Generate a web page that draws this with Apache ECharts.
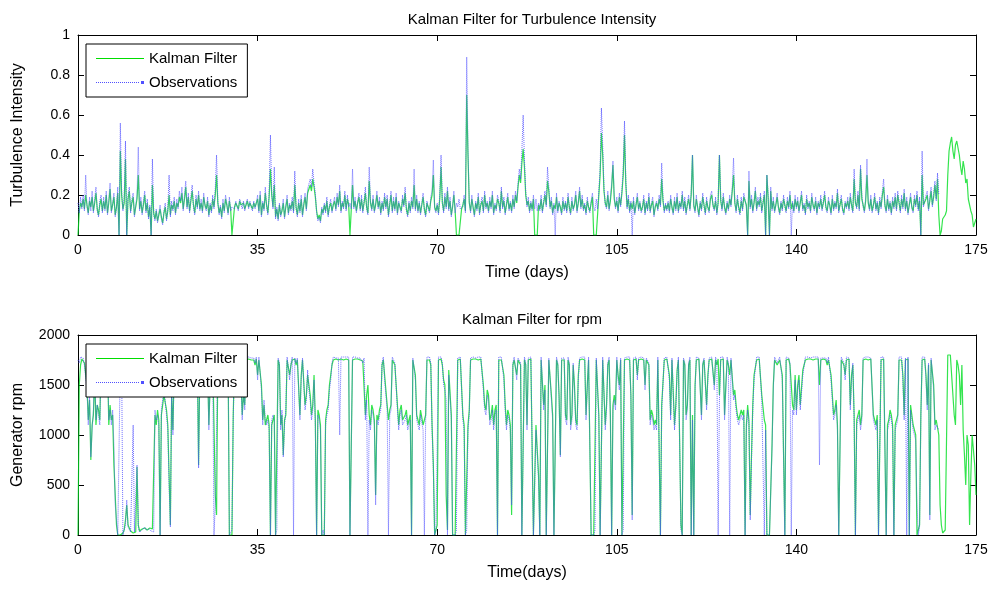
<!DOCTYPE html>
<html>
<head>
<meta charset="utf-8">
<script src="https://cdn.jsdelivr.net/npm/echarts@6/dist/echarts.min.js"></script>
<style>
html,body{margin:0;padding:0;background:#fff;}
#chart{width:991px;height:589px;}
</style>
</head>
<body>
<div id="chart"></div>
<script>
// ---- data (sampled every 0.25 day) ----
const STEP = 0.25;
const xTicks = [0, 35, 70, 105, 140, 175];
const tiTicks = [0, 0.2, 0.4, 0.6, 0.8, 1];
const rpmTicks = [0, 500, 1000, 1500, 2000];

const kfTI = [
0,0.12,0.16,0.14,0.18,0.13,0.2,0.15,0.11,0.17,0.14,0.19,0.12,0.16,0.21,0.13,0.1,0.15,0.18,0.12,
0.17,0.13,0.2,0.11,0.16,0.23,0.12,0.15,0.19,0.1,0.14,0.21,0.0,0.42,0.2,0.13,0.16,0.38,0.0,0.18,
0.22,0.12,0.16,0.19,0.1,0.14,0.18,0.3,0.13,0.17,0.11,0.15,0.2,0.12,0.16,0.09,0.14,0.0,0.25,0.11,
0.08,0.12,0.07,0.1,0.13,0.09,0.06,0.11,0.14,0.08,0.12,0.2,0.1,0.15,0.13,0.17,0.11,0.16,0.14,0.19,
0.16,0.21,0.13,0.18,0.24,0.14,0.19,0.12,0.17,0.22,0.15,0.11,0.18,0.14,0.2,0.13,0.16,0.12,0.19,0.15,
0.13,0.17,0.1,0.15,0.12,0.18,0.14,0.2,0.3,0.16,0.11,0.14,0.09,0.16,0.12,0.18,0.15,0.11,0.17,0.13,
0.0,0.0,0.14,0.16,0.15,0.13,0.17,0.15,0.14,0.16,0.13,0.15,0.17,0.14,0.16,0.15,0.13,0.16,0.14,0.15,
0.18,0.12,0.2,0.1,0.16,0.13,0.21,0.15,0.11,0.19,0.33,0.2,0.14,0.25,0.09,0.13,0.08,0.15,0.1,0.12,
0.16,0.09,0.14,0.18,0.11,0.15,0.13,0.17,0.12,0.25,0.14,0.1,0.16,0.12,0.18,0.1,0.15,0.19,0.13,0.21,
0.2,0.25,0.22,0.28,0.24,0.19,0.12,0.08,0.1,0.07,0.13,0.11,0.15,0.12,0.17,0.1,0.14,0.16,0.12,0.15,
0.17,0.13,0.19,0.15,0.22,0.12,0.16,0.14,0.2,0.13,0.18,0.15,0.0,0.0,0.25,0.14,0.17,0.12,0.16,0.19,
0.13,0.18,0.12,0.16,0.21,0.14,0.11,0.27,0.16,0.13,0.18,0.12,0.15,0.2,0.14,0.17,0.11,0.16,0.13,0.19,
0.14,0.18,0.1,0.15,0.2,0.12,0.17,0.13,0.19,0.11,0.16,0.14,0.12,0.18,0.15,0.21,0.13,0.1,0.16,0.12,
0.17,0.14,0.25,0.13,0.18,0.12,0.16,0.11,0.15,0.19,0.13,0.1,0.16,0.14,0.12,0.17,0.2,0.3,0.14,0.12,
0.15,0.11,0.18,0.34,0.16,0.12,0.19,0.14,0.22,0.13,0.17,0.1,0.14,0.2,0.12,0.0,0.0,0.0,0.0,0.13,
0.15,0.18,0.12,0.7,0.4,0.16,0.12,0.18,0.14,0.1,0.16,0.13,0.19,0.11,0.15,0.17,0.12,0.2,0.14,0.16,
0.12,0.17,0.14,0.2,0.11,0.15,0.13,0.18,0.16,0.12,0.22,0.14,0.17,0.11,0.15,0.19,0.13,0.16,0.12,0.18,
0.14,0.2,0.16,0.24,0.3,0.26,0.36,0.43,0.34,0.2,0.15,0.17,0.12,0.16,0.13,0.18,0.0,0.0,0.0,0.15,
0.13,0.18,0.12,0.16,0.2,0.15,0.27,0.22,0.14,0.17,0.11,0.15,0.13,0.19,0.12,0.16,0.14,0.11,0.17,0.13,
0.16,0.12,0.19,0.14,0.11,0.17,0.13,0.15,0.2,0.12,0.16,0.22,0.14,0.18,0.13,0.15,0.11,0.17,0.14,0.12,
0.16,0.19,0.0,0.0,0.0,0.0,0.2,0.3,0.51,0.4,0.22,0.16,0.14,0.2,0.13,0.17,0.24,0.35,0.18,0.14,
0.17,0.12,0.19,0.15,0.21,0.3,0.5,0.26,0.14,0.18,0.12,0.16,0.13,0.17,0.11,0.15,0.19,0.13,0.16,0.12,
0.14,0.18,0.11,0.16,0.13,0.19,0.12,0.15,0.17,0.1,0.14,0.16,0.13,0.18,0.15,0.28,0.17,0.12,0.15,0.13,
0.16,0.12,0.18,0.14,0.11,0.17,0.13,0.19,0.12,0.16,0.14,0.2,0.13,0.17,0.11,0.15,0.18,0.13,0.2,0.4,
0.15,0.12,0.18,0.14,0.1,0.16,0.13,0.19,0.15,0.11,0.17,0.14,0.12,0.18,0.2,0.15,0.13,0.17,0.11,0.16,
0.4,0.17,0.13,0.19,0.14,0.11,0.16,0.13,0.18,0.15,0.22,0.3,0.16,0.12,0.18,0.14,0.11,0.17,0.13,0.19,
0.2,0.15,0.0,0.27,0.14,0.18,0.12,0.16,0.22,0.13,0.17,0.15,0.19,0.12,0.16,0.2,0.0,0.3,0.18,0.0,
0.22,0.13,0.17,0.12,0.15,0.19,0.14,0.11,0.16,0.13,0.18,0.15,0.12,0.17,0.14,0.2,0.13,0.16,0.12,0.18,
0.14,0.17,0.12,0.16,0.2,0.13,0.15,0.11,0.18,0.14,0.16,0.12,0.19,0.15,0.13,0.17,0.11,0.16,0.14,0.18,
0.13,0.16,0.2,0.14,0.12,0.17,0.15,0.11,0.18,0.13,0.16,0.14,0.21,0.12,0.15,0.18,0.13,0.11,0.16,0.14,
0.17,0.13,0.19,0.15,0.12,0.28,0.16,0.14,0.2,0.13,0.33,0.18,0.15,0.12,0.17,0.3,0.16,0.13,0.18,0.12,
0.15,0.19,0.13,0.16,0.11,0.17,0.14,0.2,0.24,0.15,0.12,0.18,0.13,0.16,0.11,0.17,0.14,0.19,0.13,0.2,
0.16,0.12,0.18,0.14,0.21,0.13,0.17,0.11,0.15,0.19,0.14,0.12,0.18,0.15,0.2,0.13,0.17,0.0,0.3,0.15,
0.14,0.18,0.2,0.13,0.17,0.22,0.15,0.19,0.25,0.18,0.28,0.1,0.0,0.02,0.08,0.07,0.1,0.12,0.3,0.42,
0.46,0.49,0.42,0.38,0.45,0.47,0.48,0.4,0.34,0.3,0.37,0.33,0.26,0.28,0.18,0.19,0.12,0.1,0.04,0.06,0.08
];

const obsTI = [
0.16,0.11,0.19,0.13,0.2,0.12,0.3,0.14,0.1,0.19,0.12,0.22,0.11,0.18,0.24,0.12,0.09,0.17,0.2,0.11,
0.19,0.12,0.22,0.1,0.18,0.26,0.11,0.16,0.21,0.09,0.13,0.24,0.0,0.56,0.22,0.12,0.18,0.47,0.0,0.2,
0.24,0.11,0.18,0.21,0.09,0.15,0.2,0.44,0.12,0.19,0.1,0.17,0.22,0.11,0.18,0.08,0.15,0.0,0.38,0.1,
0.07,0.13,0.06,0.11,0.15,0.08,0.05,0.12,0.16,0.07,0.13,0.3,0.09,0.17,0.12,0.19,0.1,0.18,0.13,0.22,
0.17,0.24,0.12,0.2,0.27,0.13,0.21,0.11,0.19,0.25,0.14,0.1,0.2,0.13,0.22,0.12,0.18,0.11,0.21,0.14,
0.12,0.19,0.09,0.16,0.11,0.2,0.13,0.23,0.4,0.17,0.1,0.15,0.08,0.18,0.11,0.2,0.16,0.1,0.19,0.12,
0.14,0.15,0.13,0.17,0.14,0.12,0.18,0.16,0.13,0.17,0.12,0.16,0.18,0.13,0.17,0.14,0.12,0.17,0.13,0.16,
0.2,0.11,0.22,0.09,0.17,0.12,0.24,0.14,0.1,0.21,0.5,0.22,0.13,0.34,0.08,0.14,0.07,0.16,0.09,0.13,
0.18,0.08,0.15,0.2,0.1,0.16,0.12,0.19,0.11,0.32,0.13,0.09,0.18,0.11,0.2,0.09,0.16,0.21,0.12,0.23,
0.22,0.28,0.24,0.33,0.26,0.21,0.11,0.07,0.09,0.06,0.14,0.1,0.16,0.11,0.19,0.09,0.15,0.18,0.11,0.16,
0.19,0.12,0.21,0.14,0.25,0.11,0.17,0.13,0.22,0.12,0.2,0.14,0.16,0.13,0.33,0.13,0.19,0.11,0.17,0.21,
0.12,0.2,0.11,0.17,0.24,0.13,0.1,0.34,0.17,0.12,0.2,0.11,0.16,0.22,0.13,0.19,0.1,0.17,0.12,0.21,
0.13,0.2,0.09,0.16,0.22,0.11,0.19,0.12,0.21,0.1,0.17,0.13,0.11,0.2,0.14,0.24,0.12,0.09,0.17,0.11,
0.19,0.13,0.33,0.12,0.2,0.11,0.17,0.1,0.16,0.21,0.12,0.09,0.17,0.13,0.11,0.19,0.22,0.375,0.13,0.11,
0.16,0.1,0.2,0.4,0.17,0.11,0.21,0.13,0.24,0.12,0.19,0.09,0.15,0.22,0.11,0.16,0.14,0.18,0.13,0.12,
0.14,0.2,0.11,0.89,0.42,0.17,0.11,0.2,0.13,0.09,0.17,0.12,0.21,0.1,0.16,0.19,0.11,0.22,0.13,0.17,
0.11,0.19,0.13,0.22,0.1,0.16,0.12,0.2,0.17,0.11,0.24,0.13,0.19,0.1,0.16,0.21,0.12,0.17,0.11,0.2,
0.13,0.22,0.17,0.26,0.33,0.28,0.42,0.6,0.38,0.22,0.14,0.19,0.11,0.17,0.12,0.2,0.13,0.18,0.12,0.16,
0.12,0.2,0.11,0.17,0.22,0.14,0.34,0.24,0.13,0.19,0.1,0.16,0.0,0.21,0.11,0.17,0.13,0.1,0.19,0.12,
0.17,0.11,0.21,0.13,0.1,0.19,0.12,0.16,0.22,0.11,0.17,0.24,0.13,0.2,0.12,0.16,0.1,0.19,0.13,0.11,
0.17,0.21,0.14,0.12,0.18,0.13,0.22,0.33,0.635,0.45,0.24,0.15,0.13,0.22,0.12,0.19,0.26,0.37,0.2,0.13,
0.19,0.11,0.21,0.14,0.23,0.33,0.57,0.28,0.13,0.2,0.11,0.17,0.0,0.19,0.1,0.16,0.21,0.12,0.17,0.11,
0.13,0.2,0.1,0.17,0.12,0.21,0.11,0.16,0.19,0.09,0.15,0.17,0.12,0.2,0.14,0.36,0.19,0.11,0.16,0.12,
0.17,0.11,0.2,0.13,0.1,0.19,0.12,0.21,0.11,0.17,0.13,0.22,0.12,0.19,0.1,0.16,0.2,0.12,0.22,0.4,
0.14,0.11,0.2,0.13,0.09,0.17,0.12,0.21,0.14,0.1,0.19,0.13,0.11,0.2,0.22,0.14,0.12,0.19,0.1,0.17,
0.4,0.19,0.12,0.21,0.13,0.1,0.17,0.12,0.2,0.14,0.24,0.385,0.17,0.11,0.2,0.13,0.1,0.19,0.12,0.21,
0.21,0.14,0.0,0.32,0.13,0.2,0.11,0.17,0.24,0.12,0.19,0.14,0.21,0.11,0.17,0.22,0.0,0.3,0.2,0.0,
0.24,0.12,0.19,0.11,0.16,0.21,0.13,0.1,0.17,0.12,0.2,0.14,0.11,0.19,0.13,0.22,0.0,0.17,0.11,0.2,
0.13,0.19,0.11,0.17,0.22,0.12,0.16,0.1,0.2,0.13,0.17,0.11,0.21,0.14,0.12,0.19,0.1,0.17,0.13,0.2,
0.12,0.17,0.22,0.13,0.11,0.19,0.14,0.1,0.2,0.12,0.17,0.13,0.23,0.11,0.16,0.2,0.12,0.1,0.17,0.13,
0.19,0.12,0.21,0.14,0.11,0.33,0.17,0.13,0.22,0.12,0.35,0.2,0.14,0.11,0.19,0.38,0.17,0.12,0.2,0.11,
0.14,0.21,0.12,0.17,0.1,0.19,0.13,0.22,0.28,0.14,0.11,0.2,0.12,0.17,0.1,0.19,0.13,0.21,0.12,0.22,
0.17,0.11,0.2,0.13,0.23,0.12,0.19,0.1,0.16,0.21,0.13,0.11,0.2,0.14,0.22,0.12,0.19,0.0,0.42,0.14,
0.13,0.2,0.22,0.12,0.19,0.24,0.14,0.21,0.27,0.17,0.31,0.2
];

const kfRPM = [
0,1500,1700,1760,1750,1720,1700,1500,1150,1350,750,1100,1200,1600,1100,1300,1250,1150,1750,1700,
1750,1760,1600,1750,1100,1300,1150,1200,700,400,100,0,0,0,0,20,50,150,300,100,
80,40,30,20,20,30,680,100,40,30,60,50,70,60,50,60,70,50,60,40,
1200,1100,1250,1150,0,1200,1300,1400,1400,1250,1100,600,100,1400,1050,1700,1750,1760,1700,1750,
1750,1760,1650,1750,1750,1600,1700,1760,1750,1720,1700,1750,1450,1750,700,1700,1750,1760,1700,1750,
1750,1700,1100,1500,1700,1750,1100,400,200,1750,1750,1760,1650,1750,1760,1750,1700,1750,0,0,
0,1200,1750,1760,1450,1750,1750,1600,1200,1400,1300,1750,1750,1760,1760,1750,1760,1750,1700,1760,
1600,1750,1750,1500,1150,1300,1100,1150,1200,1100,0,1100,1150,1200,0,0,1750,1700,1100,1200,
800,1150,1200,1750,1750,1600,1700,1750,1750,1760,1700,1750,1750,1200,1600,1750,1750,1300,1400,1600,
1500,1400,1200,1300,1600,1150,0,1250,1200,1100,0,0,0,1150,1250,1300,1500,1600,1700,1750,
1750,1760,1760,1750,1750,1760,1760,1750,1750,1760,1750,1750,0,0,1750,1760,1760,1750,1760,1760,
1750,1760,1740,1750,1200,1400,1500,1200,1100,1300,1250,1150,400,1200,1150,1250,1300,1700,1750,1600,
1600,1300,1150,1250,1300,1750,1750,1700,1700,1300,1100,1250,1300,1150,1150,1200,1250,1100,1100,1200,
0,1750,1750,1600,1200,1150,1100,1250,1250,1100,1150,1200,1750,1760,1750,1700,1100,700,0,0,
100,1750,1750,1760,1700,1550,1500,400,50,1650,1650,1200,0,0,0,0,1750,1760,1760,1750,
1200,1100,0,0,1100,1250,1750,1760,1760,1760,1760,1750,1750,1760,1760,1750,1500,1300,1250,1450,
1400,1150,1200,1300,1100,1250,1300,0,1750,1760,1750,1750,1600,1300,1100,1250,1200,1100,200,1700,
1750,1760,1600,1750,1750,1700,0,0,1750,1700,1100,1750,1750,1760,1760,0,0,1100,1100,600,
0,1750,1750,1300,1500,0,0,1750,1750,1400,1200,0,0,1750,1700,1400,800,1750,1760,1750,
1200,1150,1750,1700,1100,1200,1700,1500,1150,1100,1600,1750,1750,1760,1760,1750,1200,1500,1750,1760,
0,0,0,0,1750,1750,1200,0,0,1750,1750,1100,1300,1700,1750,1200,0,1300,1400,1300,
1750,1600,1500,1750,0,0,1750,1760,1760,1750,1750,1400,200,1750,1750,1760,1600,1750,1750,1760,
1760,1750,1500,1750,1750,1700,1150,1250,1200,1100,1150,1100,1750,1760,0,1300,1300,1750,1750,1760,
1750,1600,1200,1750,1750,1100,1300,1650,1750,1760,100,0,1750,1700,1200,1300,1700,1750,0,1200,
0,1500,1750,1760,1760,1750,1200,1700,1750,1760,1300,1600,1750,1760,1760,1750,1500,1750,1700,1760,
1400,1750,1750,1760,1200,1500,1750,1700,1600,1750,1750,1400,1450,1300,1200,1150,1150,1250,1200,1250,
0,1100,1300,1150,200,800,1300,1600,1600,1750,1750,1760,1750,1400,1400,1150,1100,0,0,0,
0,900,1500,1750,1750,1700,1700,1750,1750,1600,1600,0,1750,1760,1760,1700,1500,1300,1250,1600,
1250,1500,1600,1300,1300,1650,1650,1750,1750,1760,1760,1760,1760,1750,1750,1760,1750,1760,1500,1750,
1750,1760,1760,1750,1700,1750,1750,1600,1400,1200,1250,1350,1100,0,0,1750,1750,1700,1600,1750,
1750,1760,1300,1600,1700,1200,0,1150,1150,1250,1100,1200,1750,1760,1760,1750,1750,1760,1760,1750,
1200,1150,1100,1200,0,0,1750,1760,1760,1750,0,1100,1150,1250,1200,1100,0,1100,1100,1200,
1750,1760,1750,1600,1200,1750,1750,1760,0,1300,1300,1100,1050,1000,0,0,100,1200,1750,1760,
1760,1600,1300,1700,200,1750,1750,1500,1100,1150,1150,1000,300,100,20,30,50,40,1800,1800,
1800,1800,1400,1200,1100,1750,1700,1600,1300,1700,1050,800,500,1000,900,100,600,1000,1000,700,400
];

const obsRPM = [
1750,1720,1780,1760,1770,1700,1720,1450,1100,1400,780,1050,1250,1650,1150,1300,1200,1100,1770,1720,
1780,1770,1550,1780,1150,1250,1100,1250,900,300,150,0,0,1750,1780,0,20,100,350,80,
100,30,20,1100,30,20,700,80,30,20,50,40,80,50,40,60,60,40,50,30,
1250,1150,1200,1100,0,1250,1350,1450,1450,1200,1050,500,80,1450,1000,1720,1780,1770,1720,1780,
1780,1770,1600,1780,1770,1550,1720,1780,1770,1700,1720,1770,1400,1780,670,1720,1770,1780,1720,1780,
1780,1720,1050,1550,1720,1770,0,300,300,1780,1770,1780,1600,1770,1780,1770,1720,1780,0,0,
50,1150,1780,1770,1400,1780,1770,1550,1150,1450,1250,1780,1770,1780,1780,1770,1780,1770,1720,1780,
1550,1780,1770,1450,1100,1350,1150,1100,1150,1050,0,1150,1200,1150,0,50,1770,1720,1050,1250,
780,1100,1250,1780,1770,1550,1720,1780,0,1770,1720,1770,1780,1150,1550,1770,1780,1250,1350,1650,
1450,1350,1150,1250,1550,1100,0,1200,1150,1050,0,50,0,1100,1200,1250,1450,1550,1720,1780,
1780,1770,1780,1770,1000,1780,1770,1780,1770,1780,1770,1780,0,0,1780,1770,1780,1780,1770,1780,
1770,1780,1720,1770,1150,1350,0,1150,1050,1250,1200,1100,300,1150,1100,1200,1250,1720,1780,1550,
1550,1250,0,1200,1250,1780,1770,1720,1720,1250,1050,1200,1250,1100,1100,1150,1200,1050,1050,1150,
0,1770,1780,1550,1150,1100,1050,1200,1200,1050,0,1150,1780,1770,1780,1720,1050,650,0,50,
50,1780,1770,1780,1720,1500,1450,1350,0,1600,1600,1150,0,0,0,50,1770,1780,1780,1770,
1150,1050,0,50,1050,1200,1770,1780,1780,1780,1770,1780,1780,1770,1780,1770,1450,1250,1200,1400,
1350,1100,1150,1250,1050,1200,1250,0,1780,1770,1780,1770,1550,1250,1050,1200,1150,1050,300,1720,
1780,1770,1550,1770,1780,1720,0,0,1780,1720,1050,1770,1780,1780,1770,0,0,1050,1050,550,
0,1780,1770,1250,1450,0,0,1770,1780,1350,1150,0,0,1780,1720,1350,780,1770,1780,1770,
1150,1100,1780,1720,1050,1150,1720,1450,1100,1050,1550,1770,1780,1780,1770,1780,1150,1450,1780,1770,
0,0,0,50,1770,1780,1150,0,0,1780,1770,1050,1250,1720,1780,1150,0,1250,1350,1250,
1780,1550,1450,1770,0,50,1770,1780,1780,1770,1780,1350,150,1770,1780,1780,1550,1770,1780,1780,
1780,1770,1450,1770,1780,1720,1100,1200,1150,1050,1100,1050,1780,1770,0,1250,1250,1770,1780,1780,
1780,1550,1150,1770,1780,1050,1250,1600,1780,1770,50,0,1770,1720,1150,1250,1720,1780,0,1150,
0,1450,1780,1780,1770,1780,1150,1720,1770,1780,1250,1550,1770,1780,1780,1770,1450,1780,1720,0,
1350,1780,1770,1780,1150,1450,1780,1720,0,1770,1780,1350,1400,1250,1150,1100,1100,1200,1150,1200,
0,1050,1250,1100,150,750,1250,1550,1550,1780,1770,1780,1770,1350,1350,0,1050,0,0,0,
0,850,1450,1780,1770,1720,1720,1780,1770,1550,1550,0,1780,1780,1770,1720,0,1250,1200,1550,
1200,1450,1550,1250,1250,1600,1600,1780,1770,1780,1780,1770,1780,1780,1770,1780,1770,1780,700,1770,
1780,1770,1780,1770,1720,1780,1770,1550,1350,1150,1200,1300,1050,0,0,1780,1770,1720,1550,1780,
1780,1770,1250,1550,1720,1150,0,1100,1100,1200,1050,1150,1770,1780,1780,1770,1780,1780,1770,1780,
1150,1100,1050,1150,0,0,1780,1770,1780,1780,0,1050,1100,1200,1150,1050,0,1050,1050,1150,
1780,1770,1780,1550,1150,1770,0,1780,0,1250,1250,1050,1000,950,300,0,80,1150,1780,1770,
1780,1550,1250,1720,150,1770,1780,1450,1050,1100,1100,1050
];

// ---- build ----
const toXY = arr => arr.map((v, i) => [i * STEP, v]);
const FONT = 'Liberation Sans, Arial, Helvetica, sans-serif';
const GREEN = '#00dd22';
const BLUE = '#4a4aff';

// legend icons (48 x 3 box)
const kfIcon = 'path://M0,0h0.01v0.01h-0.01zM0,1h48v1h-48zM47.99,2.99h0.01v0.01h-0.01z';
let obsPath = 'M0,0h0.01v0.01h-0.01z';
for (let x = 0; x < 44; x += 2) obsPath += 'M' + x + ',1h1v1h-1z';
obsPath += 'M45,0h3v3h-3z';
const obsIcon = 'path://' + obsPath;

function xAx(gi, pos, name) {
  return {
    gridIndex: gi, type: 'value', position: pos,
    min: xTicks[0], max: xTicks[xTicks.length - 1], interval: xTicks[1] - xTicks[0],
    name: name || '', nameLocation: 'middle', nameGap: 30, nameMoveOverlap: false,
    nameTextStyle: { fontFamily: FONT, fontSize: 16, color: '#000' },
    axisLine: { show: true, onZero: false, lineStyle: { color: '#000', width: 1 } },
    axisTick: { show: true, inside: true, length: 6, lineStyle: { color: '#000' } },
    axisLabel: { show: pos === 'bottom', fontFamily: FONT, fontSize: 14, color: '#000', margin: 8 },
    splitLine: { show: false }
  };
}
function yAx(gi, pos, ticks, name) {
  return {
    gridIndex: gi, type: 'value', position: pos,
    min: ticks[0], max: ticks[ticks.length - 1], interval: ticks[1] - ticks[0],
    name: name || '', nameLocation: 'middle', nameGap: 52, nameRotate: 90, nameMoveOverlap: false,
    nameTextStyle: { fontFamily: FONT, fontSize: 16, color: '#000' },
    axisLine: { show: true, onZero: false, lineStyle: { color: '#000', width: 1 } },
    axisTick: { show: true, inside: true, length: 6, lineStyle: { color: '#000' } },
    axisLabel: { show: pos === 'left', fontFamily: FONT, fontSize: 14, color: '#000', margin: 8,
      formatter: v => String(v) },
    splitLine: { show: false }
  };
}
function obsSeries(xi, yi, data) {
  return {
    name: 'Observations', type: 'line', xAxisIndex: xi, yAxisIndex: yi,
    data: toXY(data), showSymbol: false, symbol: 'none',
    lineStyle: { color: BLUE, width: 1, type: 'dotted', opacity: 0.8 },
    itemStyle: { color: BLUE }, z: 3, silent: true
  };
}
function kfSeries(xi, yi, data) {
  return {
    name: 'Kalman Filter', type: 'line', xAxisIndex: xi, yAxisIndex: yi,
    data: toXY(data), showSymbol: false, symbol: 'none',
    lineStyle: { color: GREEN, width: 1.2, opacity: 0.8 },
    itemStyle: { color: GREEN }, z: 2, silent: true
  };
}
function legend(top) {
  return {
    orient: 'vertical', left: 86, top: top,
    data: [{ name: 'Kalman Filter', icon: kfIcon, itemStyle: { color: '#00dd00' } },
           { name: 'Observations', icon: obsIcon, itemStyle: { color: '#5050ff' } }],
    itemWidth: 48, itemHeight: 3, itemGap: 9,
    padding: [7, 10, 7, 10],
    borderColor: '#000', borderWidth: 1, backgroundColor: '#fff',
    textStyle: { fontFamily: FONT, fontSize: 15, color: '#000' },
    selectedMode: false, z: 10
  };
}

const chart = echarts.init(document.getElementById('chart'), null, { renderer: 'canvas' });
chart.setOption({
  animation: false,
  backgroundColor: '#fff',
  title: [
    { text: 'Kalman Filter for Turbulence Intensity', left: 527, top: 7, textAlign: 'center',
      textStyle: { fontFamily: FONT, fontSize: 15, fontWeight: 'normal', color: '#000' } },
    { text: 'Kalman Filter for rpm', left: 527, top: 307, textAlign: 'center',
      textStyle: { fontFamily: FONT, fontSize: 15, fontWeight: 'normal', color: '#000' } }
  ],
  legend: [legend(44), legend(344)],
  grid: [
    { left: 78, right: 15, top: 35, height: 200 },
    { left: 78, right: 15, top: 335, height: 200 }
  ],
  xAxis: [
    xAx(0, 'bottom', 'Time (days)'), xAx(1, 'bottom', 'Time(days)'),
    xAx(0, 'top'), xAx(1, 'top')
  ],
  yAxis: [
    yAx(0, 'left', tiTicks, 'Turbulence Intensity'), yAx(1, 'left', rpmTicks, 'Generator rpm'),
    yAx(0, 'right', tiTicks), yAx(1, 'right', rpmTicks)
  ],
  series: [
    kfSeries(0, 0, kfTI), obsSeries(0, 0, obsTI),
    kfSeries(1, 1, kfRPM), obsSeries(1, 1, obsRPM)
  ]
});
</script>
</body>
</html>
